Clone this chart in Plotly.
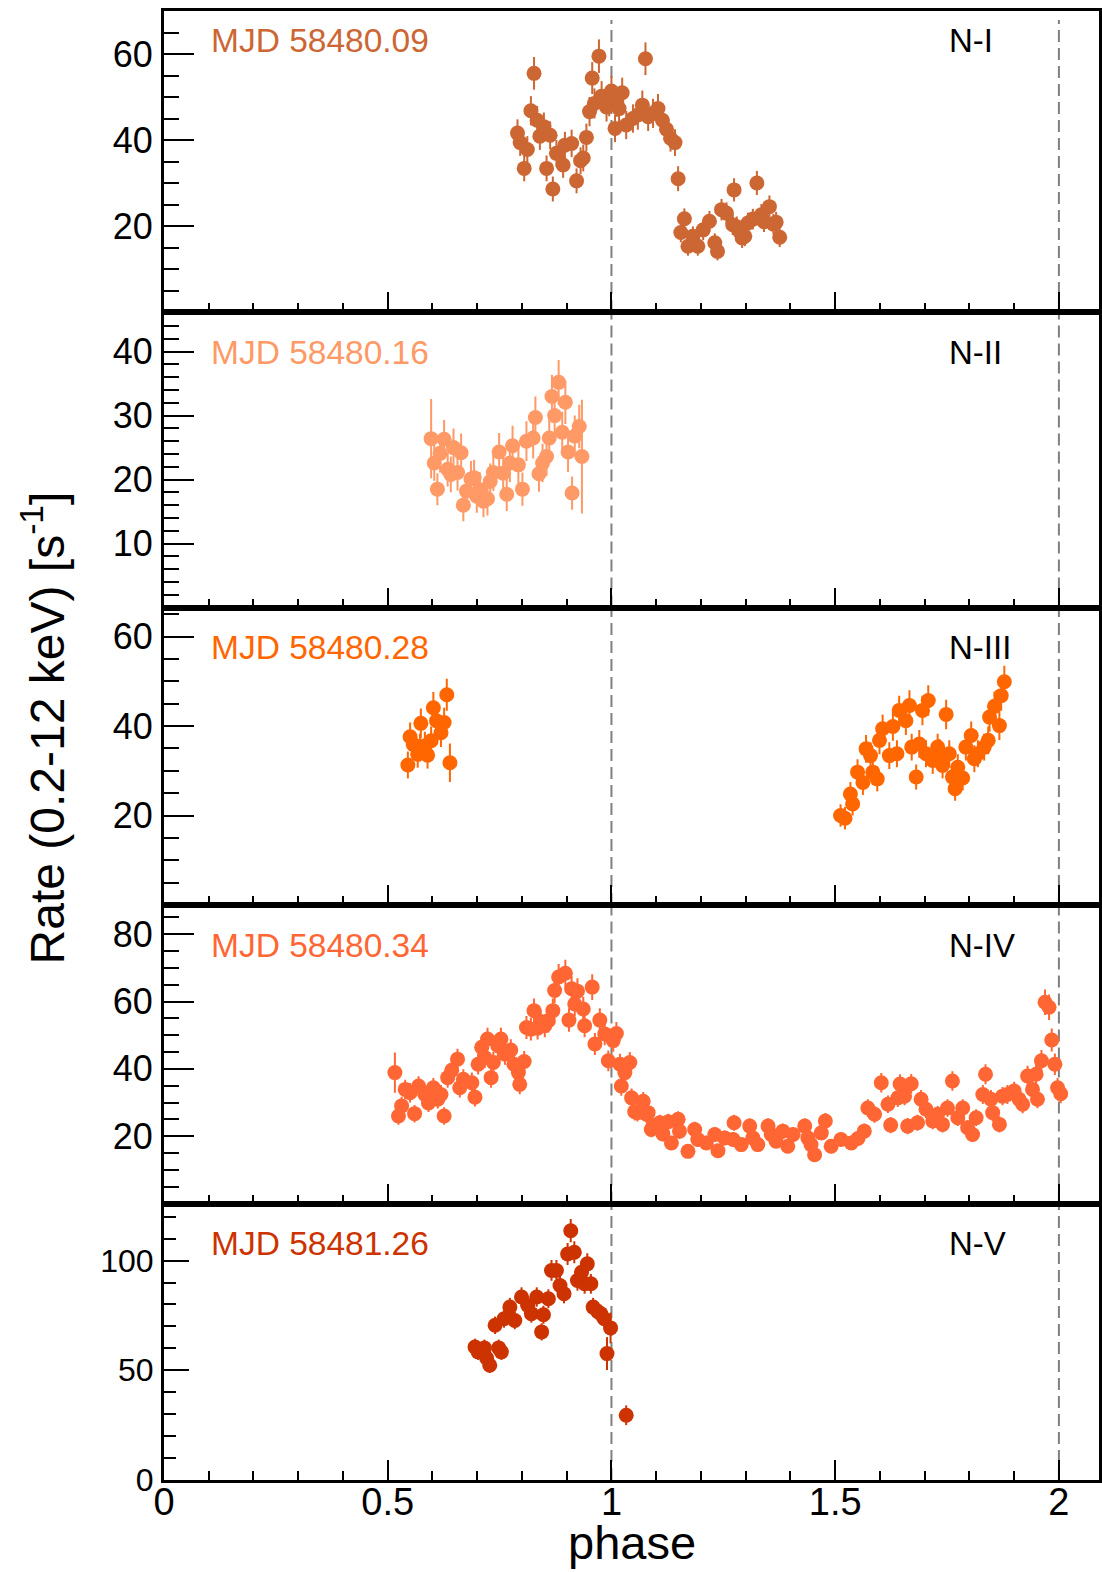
import plotly.graph_objects as go

# ---------------- data ----------------
phase_1 = [0.790, 0.796, 0.805, 0.812, 0.820, 0.827, 0.834, 0.840, 0.849, 0.855, 0.863, 0.869, 0.877, 0.892, 0.896,
           0.911, 0.922, 0.931, 0.937, 0.944, 0.951, 0.957, 0.962, 0.972, 0.978, 0.989, 0.995, 1.000, 1.008, 1.012,
           1.017, 1.024, 1.033, 1.048, 1.059, 1.069, 1.076, 1.082, 1.093, 1.104, 1.114, 1.123, 1.132, 1.142, 1.149,
           1.155, 1.163, 1.171, 1.182, 1.193, 1.205, 1.219, 1.231, 1.237, 1.246, 1.257, 1.271, 1.274, 1.280, 1.286,
           1.292, 1.298, 1.305, 1.316, 1.325, 1.335, 1.341, 1.353, 1.362, 1.368, 1.376]
rate_1 = [41.6, 39.4, 33.4, 37.8, 46.8, 55.5, 44.6, 40.9, 43.1, 33.4, 41.1, 28.6, 36.9, 34.2, 38.8,
          39.2, 30.5, 35.2, 35.8, 40.6, 46.6, 54.4, 48.5, 59.5, 50.2, 47.7, 49.0, 51.4, 42.7, 48.9,
          47.3, 51.0, 43.5, 45.0, 45.8, 48.1, 58.9, 45.4, 46.2, 47.3, 44.6, 42.5, 40.4, 39.4, 31.0,
          18.5, 21.7, 15.3, 17.6, 15.3, 19.1, 21.1, 16.1, 14.1, 23.8, 23.0, 20.3, 28.4, 19.8, 18.8,
          17.2, 17.6, 20.7, 21.6, 30.0, 22.6, 21.0, 24.5, 20.4, 20.9, 17.4]
err_1 = [3.2, 3.1, 3.0, 3.1, 3.4, 3.8, 3.3, 3.2, 3.3, 3.0, 3.2, 2.9, 3.1, 3.0, 3.1,
         3.2, 2.9, 3.1, 3.1, 3.2, 3.4, 3.7, 3.5, 3.9, 3.5, 3.4, 3.5, 3.5, 3.2, 3.5,
         3.4, 3.5, 3.3, 3.3, 3.4, 3.4, 3.8, 3.3, 3.4, 3.4, 3.3, 3.2, 3.1, 3.1, 2.9,
         2.3, 2.4, 2.2, 2.3, 2.2, 2.4, 2.4, 2.2, 2.1, 2.5, 2.5, 2.4, 2.7, 2.4, 2.4,
         2.3, 2.3, 2.4, 2.4, 2.8, 2.5, 2.4, 2.6, 2.4, 2.4, 2.3]

phase_2 = [0.597, 0.604, 0.611, 0.617, 0.626, 0.634, 0.641, 0.647, 0.656, 0.664, 0.669, 0.676, 0.686, 0.693, 0.699,
           0.706, 0.714, 0.723, 0.729, 0.736, 0.749, 0.758, 0.766, 0.773, 0.779, 0.792, 0.801, 0.810, 0.825, 0.830,
           0.838, 0.846, 0.855, 0.861, 0.867, 0.873, 0.882, 0.890, 0.897, 0.903, 0.912, 0.918, 0.928, 0.934]
rate_2 = [26.4, 22.6, 18.5, 24.1, 26.3, 21.6, 20.8, 25.0, 21.1, 24.2, 16.0, 18.2, 20.1, 20.3, 17.4,
          18.4, 16.6, 17.0, 19.7, 21.1, 24.3, 21.0, 17.7, 22.6, 25.3, 22.3, 18.5, 26.0, 26.5, 29.7,
          20.9, 22.6, 23.6, 26.5, 33.0, 30.0, 35.2, 27.4, 32.1, 24.3, 17.9, 26.8, 28.3, 23.6]
err_2 = [6.2, 2.8, 2.5, 3.0, 3.0, 2.7, 2.8, 3.0, 2.8, 3.0, 2.5, 2.6, 2.8, 2.8, 2.6,
         2.7, 2.5, 2.6, 2.8, 2.9, 3.0, 2.9, 2.6, 3.0, 3.1, 2.9, 2.6, 3.1, 3.2, 3.3,
         2.8, 3.0, 3.0, 3.2, 3.4, 3.3, 3.5, 3.2, 3.4, 3.1, 2.6, 3.2, 3.4, 8.9]

phase_3 = [0.545, 0.550, 0.557, 0.567, 0.572, 0.574, 0.583, 0.589, 0.597, 0.602, 0.609, 0.619, 0.626, 0.632, 0.639,
           1.512, 1.522, 1.534, 1.539, 1.550, 1.562, 1.569, 1.579, 1.584, 1.594, 1.599, 1.606, 1.621, 1.629, 1.638,
           1.643, 1.658, 1.666, 1.671, 1.681, 1.688, 1.695, 1.703, 1.708, 1.718, 1.729, 1.733, 1.740, 1.748, 1.755,
           1.762, 1.768, 1.774, 1.785, 1.792, 1.804, 1.811, 1.819, 1.833, 1.842, 1.845, 1.856, 1.867, 1.871, 1.878]
rate_3 = [31.3, 37.6, 35.9, 33.7, 35.2, 40.6, 35.6, 33.5, 36.7, 44.1, 41.2, 38.5, 40.8, 47.0, 31.8,
          20.0, 19.4, 24.8, 22.6, 29.7, 27.4, 34.9, 33.4, 29.7, 28.2, 36.8, 39.4, 33.4, 39.9, 33.8,
          43.5, 41.2, 44.6, 35.3, 28.6, 36.0, 43.5, 33.8, 45.7, 32.3, 35.3, 34.1, 31.2, 42.6, 33.8,
          28.6, 26.0, 30.8, 28.4, 35.3, 37.9, 32.7, 33.8, 35.3, 36.8, 42.0, 44.4, 40.1, 46.8, 49.9]
err_3 = [3.0, 3.2, 3.1, 3.0, 3.1, 3.3, 3.1, 3.0, 3.2, 3.5, 3.3, 3.2, 3.3, 3.6, 4.3,
         2.5, 2.5, 2.7, 2.6, 2.9, 2.8, 3.1, 3.0, 2.9, 2.8, 3.1, 3.2, 3.0, 3.2, 3.0,
         3.3, 3.2, 3.4, 3.0, 2.8, 3.1, 3.3, 3.0, 3.4, 3.0, 3.0, 3.0, 2.9, 3.3, 3.0,
         2.8, 2.7, 2.9, 2.8, 3.0, 3.1, 3.0, 3.0, 3.0, 3.1, 3.3, 3.3, 3.2, 3.4, 3.6]

phase_4 = [0.516, 0.524, 0.531, 0.539, 0.550, 0.560, 0.569, 0.583, 0.591, 0.602, 0.612, 0.619, 0.626, 0.634, 0.643,
           0.656, 0.661, 0.669, 0.688, 0.695, 0.702, 0.710, 0.717, 0.723, 0.731, 0.736, 0.746, 0.753, 0.762, 0.775,
           0.782, 0.792, 0.795, 0.805, 0.810, 0.820, 0.827, 0.835, 0.842, 0.851, 0.859, 0.869, 0.873, 0.882, 0.897,
           0.905, 0.911, 0.918, 0.924, 0.937, 0.940, 0.957, 0.963, 0.974, 0.985, 0.993, 1.004, 1.011, 1.019, 1.022,
           1.030, 1.041, 1.045, 1.052, 1.058, 1.071, 1.078, 1.082, 1.089, 1.093, 1.108, 1.115, 1.127, 1.134, 1.149,
           1.152, 1.171, 1.186, 1.193, 1.212, 1.231, 1.238, 1.253, 1.272, 1.274, 1.290, 1.309, 1.316, 1.327, 1.350,
           1.357, 1.368, 1.383, 1.394, 1.406, 1.432, 1.439, 1.446, 1.454, 1.469, 1.478, 1.491, 1.513, 1.536, 1.551,
           1.565, 1.573, 1.588, 1.603, 1.618, 1.624, 1.640, 1.645, 1.655, 1.662, 1.670, 1.684, 1.692, 1.703, 1.718,
           1.729, 1.740, 1.751, 1.762, 1.774, 1.785, 1.796, 1.807, 1.815, 1.830, 1.836, 1.848, 1.852, 1.867, 1.874,
           1.885, 1.900, 1.911, 1.919, 1.930, 1.941, 1.949, 1.952, 1.961, 1.969, 1.978, 1.984, 1.991, 1.997, 2.004]
rate_4 = [38.9, 26.0, 29.0, 33.9, 32.9, 26.7, 34.9, 32.4, 29.9, 34.4, 31.0, 32.4, 26.0, 37.4, 39.6,
          42.9, 34.4, 36.9, 35.9, 31.6, 41.4, 46.4, 43.4, 48.9, 37.4, 41.9, 46.9, 48.9, 44.4, 45.6,
          41.4, 38.9, 35.4, 42.2, 52.3, 51.8, 57.3, 52.1, 54.1, 52.8, 54.3, 57.3, 63.3, 67.3, 68.4,
          54.5, 63.8, 59.3, 63.1, 57.8, 52.8, 64.3, 47.4, 54.5, 50.4, 42.4, 48.4, 50.5, 41.4, 34.9,
          38.9, 41.9, 31.4, 27.3, 27.0, 30.4, 26.5, 27.0, 22.0, 23.0, 24.0, 20.7, 24.3, 18.0, 25.0,
          21.5, 15.5, 22.0, 19.0, 18.0, 20.5, 15.7, 19.5, 19.0, 24.0, 17.5, 23.0, 19.5, 17.5, 23.0,
          20.5, 18.5, 21.5, 17.0, 20.5, 23.0, 19.5, 17.5, 14.5, 21.0, 24.5, 17.0, 19.0, 18.0, 19.3,
          21.5, 28.4, 26.5, 35.9, 29.5, 23.3, 31.4, 35.5, 31.9, 23.0, 35.6, 24.0, 31.0, 28.0, 24.5,
          26.5, 23.5, 28.4, 36.4, 25.5, 28.4, 22.5, 20.5, 25.5, 32.4, 38.4, 31.0, 27.0, 23.5, 31.9,
          32.4, 33.4, 31.0, 29.5, 37.9, 33.9, 38.4, 31.0, 42.4, 59.8, 58.3, 48.6, 41.4, 34.4, 32.6]
err_4 = [6.0, 2.6, 2.7, 2.9, 2.9, 2.6, 2.9, 2.8, 2.7, 2.9, 2.8, 2.8, 2.6, 3.0, 3.0,
         3.1, 2.9, 3.0, 3.0, 2.8, 3.1, 3.3, 3.1, 3.3, 3.0, 3.1, 3.3, 3.3, 3.2, 3.2,
         3.1, 3.0, 2.9, 3.1, 3.4, 3.4, 3.6, 3.4, 3.5, 3.4, 3.5, 3.6, 3.8, 3.9, 4.0,
         3.5, 3.8, 3.6, 3.8, 3.6, 3.4, 3.8, 3.3, 3.5, 3.4, 3.1, 3.3, 3.4, 3.1, 2.9,
         3.0, 3.1, 2.8, 2.6, 2.6, 2.7, 2.5, 2.6, 2.3, 2.4, 2.4, 2.3, 2.4, 2.1, 2.4,
         2.3, 2.0, 2.3, 2.2, 2.1, 2.2, 2.0, 2.2, 2.2, 2.4, 2.1, 2.3, 2.2, 2.1, 2.3,
         2.2, 2.1, 2.3, 2.1, 2.2, 2.3, 2.2, 2.1, 1.9, 2.2, 2.4, 2.1, 2.2, 2.1, 2.2,
         2.3, 2.6, 2.5, 2.9, 2.6, 2.4, 2.7, 2.9, 2.7, 2.4, 2.9, 2.4, 2.7, 2.6, 2.4,
         2.5, 2.4, 2.6, 2.9, 2.5, 2.6, 2.3, 2.2, 2.5, 2.8, 3.0, 2.7, 2.6, 2.4, 2.7,
         2.8, 2.8, 2.7, 2.7, 3.0, 2.8, 3.0, 2.7, 3.2, 3.8, 3.8, 3.4, 3.2, 2.9, 2.8]

phase_5 = [0.695, 0.702, 0.716, 0.721, 0.728, 0.740, 0.748, 0.754, 0.760, 0.773, 0.784, 0.799, 0.813, 0.821, 0.833,
           0.844, 0.848, 0.859, 0.866, 0.877, 0.885, 0.894, 0.902, 0.909, 0.917, 0.924, 0.933, 0.940, 0.946, 0.954,
           0.959, 0.969, 0.976, 0.984, 0.990, 0.998, 1.033]
rate_5 = [60.6, 58.4, 60.2, 55.6, 52.3, 70.5, 60.2, 58.4, 73.5, 78.8, 72.7, 83.4, 79.5, 75.8, 83.4,
          67.5, 75.3, 82.6, 95.5, 95.5, 88.6, 84.9, 103.0, 113.6, 103.8, 90.9, 94.7, 89.4, 98.5, 89.4,
          78.8, 76.8, 75.8, 73.5, 57.6, 69.3, 29.5]
err_5 = [3.8, 3.7, 3.8, 3.6, 3.5, 4.0, 3.8, 3.7, 4.1, 4.2, 4.0, 4.4, 4.2, 4.1, 4.4,
         3.9, 4.1, 4.3, 4.7, 4.7, 4.5, 4.4, 5.0, 5.3, 5.0, 4.6, 4.7, 4.5, 4.8, 4.5,
         4.2, 4.2, 4.1, 4.1, 7.5, 7.0, 4.5]

colors = ["#cc6633", "#ff9966", "#ff6600", "#ff6633", "#cc3300"]
mjd_labels = ["MJD 58480.09", "MJD 58480.16", "MJD 58480.28", "MJD 58480.34", "MJD 58481.26"]
obs_labels = ["N-I", "N-II", "N-III", "N-IV", "N-V"]
y_ranges = [[0, 70], [0, 46.2], [0, 66.5], [0, 88.7], [0, 126]]
y_tickvals = [[20, 40, 60], [10, 20, 30, 40], [20, 40, 60], [20, 40, 60, 80], [0, 50, 100]]
y_minor_step = [5, 2, 5, 5, 10]
x_tickvals = [0, 0.5, 1, 1.5, 2]
x_ticktext = ["0", "0.5", "1", "1.5", "2"]
x_range = [0, 2.0896]
dashed_phases = [1, 2]

series = [(phase_1, rate_1, err_1), (phase_2, rate_2, err_2), (phase_3, rate_3, err_3),
          (phase_4, rate_4, err_4), (phase_5, rate_5, err_5)]

# ---------------- layout geometry ----------------
W, H = 1102, 1572
ML, MR, MT, MB = 164, 0, 11, 92
plot_h = H - MT - MB
bounds_px = [11, 312, 607.5, 905, 1203.5, 1480]  # panel edges (pixels from top)


def ypaper(py):
    return (H - MB - py) / plot_h


def xpaper(px):
    return (px - ML) / (W - ML - MR)


FONT = "Liberation Sans, Arial, Helvetica, sans-serif"

fig = go.Figure()
layout = dict(
    width=W, height=H,
    margin=dict(l=ML, r=MR, t=MT, b=MB),
    paper_bgcolor="white", plot_bgcolor="white",
    showlegend=False,
    font=dict(family=FONT, color="black"),
)

annotations = []
shapes = []
for i in range(5):
    n = i + 1
    sx = "" if n == 1 else str(n)
    ph, rt, er = series[i]
    fig.add_trace(go.Scatter(
        x=ph, y=rt, mode="markers",
        xaxis="x" + sx, yaxis="y" + sx,
        marker=dict(size=15, color=colors[i], line=dict(width=0)),
        error_y=dict(type="data", array=er, color=colors[i], thickness=2, width=0),
        hoverinfo="x+y",
    ))
    dom = [ypaper(bounds_px[i + 1]), ypaper(bounds_px[i])]
    last = (n == 5)
    tick_font = 32 if last else 36
    layout["xaxis" + sx] = dict(
        domain=[0, 1], anchor="y" + sx, range=x_range,
        showline=True, linecolor="black", linewidth=3, mirror=True,
        showgrid=False, zeroline=False,
        ticks="inside", ticklen=20, tickwidth=2, tickcolor="black",
        tickvals=x_tickvals, ticktext=x_ticktext,
        showticklabels=last,
        ticklabelstandoff=-14,
        tickfont=dict(size=38, family=FONT),
        minor=dict(ticks="inside", ticklen=9, tickwidth=2, tickcolor="black", dtick=0.1, tick0=0, showgrid=False),
    )
    layout["yaxis" + sx] = dict(
        domain=dom, anchor="x" + sx, range=y_ranges[i],
        showline=True, linecolor="black", linewidth=3, mirror=True,
        showgrid=False, zeroline=False,
        ticks="inside", ticklen=25 if last else 30, tickwidth=2, tickcolor="black",
        tickvals=y_tickvals[i],
        ticklabelstandoff=1,
        tickfont=dict(size=tick_font, family=FONT),
        minor=dict(ticks="inside", ticklen=12 if last else 15, tickwidth=2, tickcolor="black",
                   dtick=y_minor_step[i], tick0=0, showgrid=False),
    )
    for xp in dashed_phases:
        shapes.append(dict(type="line", xref="x" + sx, yref="y" + sx + " domain",
                           x0=xp, x1=xp, y0=0, y1=1 if n > 1 else 0.97,
                           line=dict(color="#808080", width=2, dash="12px,6px"), layer="below"))
    label_y = bounds_px[i] + (29 if n == 1 else 40)
    annotations.append(dict(text=mjd_labels[i], xref="paper", yref="paper",
                            x=xpaper(209), y=ypaper(label_y), xanchor="left", yanchor="middle",
                            showarrow=False, font=dict(size=33.5, color=colors[i], family=FONT)))
    annotations.append(dict(text=obs_labels[i], xref="paper", yref="paper",
                            x=xpaper(950), y=ypaper(label_y), xanchor="left", yanchor="middle",
                            showarrow=False, font=dict(size=33, color="black", family=FONT)))

annotations.append(dict(text="Rate (0.2-12 keV) [s<sup>-1</sup>]", xref="paper", yref="paper",
                        x=xpaper(43), y=ypaper(728), xanchor="center", yanchor="middle",
                        textangle=-90, showarrow=False, font=dict(size=48, family=FONT)))
annotations.append(dict(text="phase", xref="paper", yref="paper",
                        x=xpaper(633), y=ypaper(1542), xanchor="center", yanchor="middle",
                        showarrow=False, font=dict(size=47, family=FONT)))

layout["annotations"] = annotations
layout["shapes"] = shapes
fig.update_layout(**layout)

fig.write_html("out.html", config={"displayModeBar": False},
               post_script="document.body.style.margin='0';document.body.style.overflow='hidden';"
                           "document.documentElement.style.overflow='hidden';")
